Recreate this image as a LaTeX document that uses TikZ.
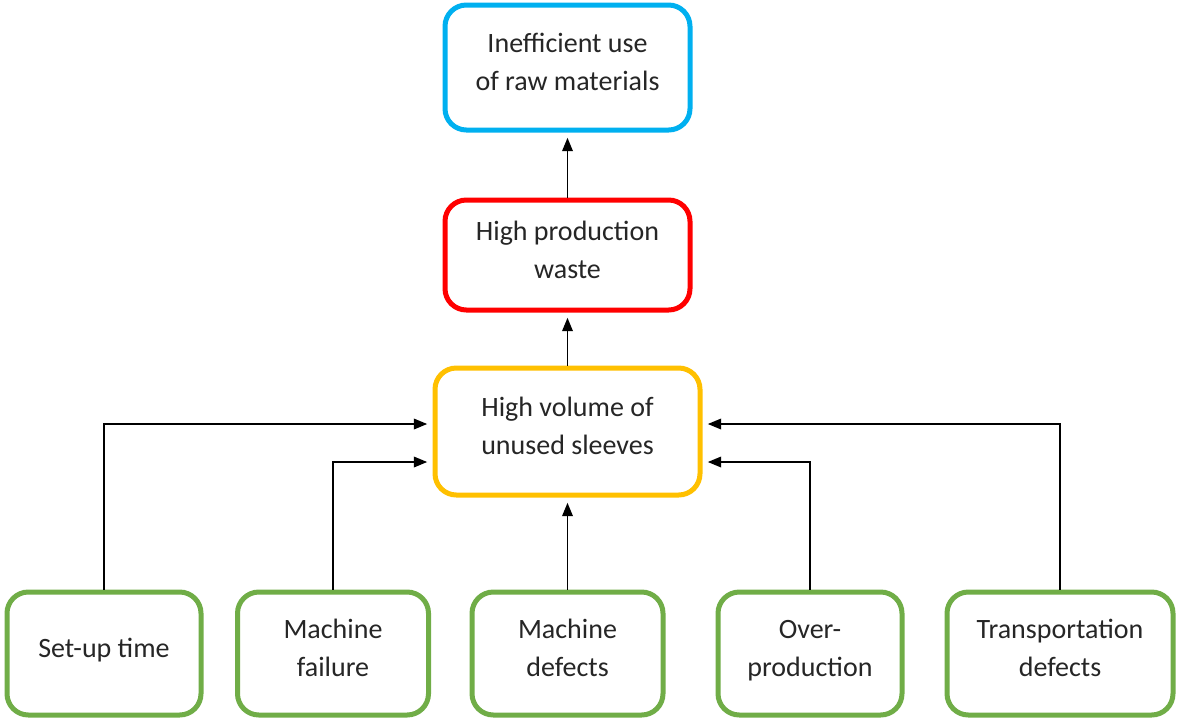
\documentclass[tikz,border=0pt]{standalone}
\usepackage{fontspec}
\setmainfont{Carlito}
\usetikzlibrary{arrows.meta,calc}
\definecolor{topblue}{HTML}{00B0F0}
\definecolor{wastered}{HTML}{FF0000}
\definecolor{sleeveyellow}{HTML}{FFC000}
\definecolor{causegreen}{HTML}{70AD47}
\tikzset{
  box/.style={draw, line width=3.75pt, rounded corners=16pt, fill=white,
    align=center, inner sep=0pt, text=black!85,
    font=\fontsize{21}{28.5}\selectfont,
    execute at end node={\rule[-8pt]{0pt}{8pt}}},
  cause/.style={box, draw=causegreen, minimum height=92.25pt},
  link/.style={-{Triangle[length=10pt,width=8pt]}, line width=1.1pt,
    shorten >=4pt}
}

\begin{document}
\begin{tikzpicture}[x=0.75pt, y=-0.75pt]
  \useasboundingbox (0,0) rectangle (1177,719);

  % effects
  \node[box, draw=topblue, minimum width=183.75pt, minimum height=93.75pt]
    at (567.5, 67.5) (raw) {Inefficient use\\of raw materials};
  \node[box, draw=wastered, minimum width=183.75pt, minimum height=82.5pt]
    at (567.5, 255) (waste) {High production\\waste};
  \node[box, draw=sleeveyellow, minimum width=198.75pt, minimum height=95.25pt]
    at (567.5, 431.5) (sleeves) {High volume of\\unused sleeves};

  % causes
  \node[cause, minimum width=145.5pt]  at (104, 653.5)  (setup)
    {Set-up time};
  \node[cause, minimum width=143.25pt] at (333, 653.5)  (failure)
    {Machine\\failure};
  \node[cause, minimum width=143.25pt] at (567.5, 653.5) (defects)
    {Machine\\defects};
  \node[cause, minimum width=138pt]    at (810, 653.5)  (overprod)
    {Over-\\production};
  \node[cause, minimum width=169.5pt]  at (1060, 653.5) (transport)
    {Transportation\\defects};

  \draw[link] (waste) -- (raw);
  \draw[link] (sleeves) -- (waste);
  \draw[link] (defects) -- (sleeves);

  \draw[link] (setup.north)   |- ($(sleeves.west)+(0,-7.5)$);
  \draw[link] (failure.north) |- ($(sleeves.west)+(0,30.5)$);
  \draw[link] (overprod.north)  |- ($(sleeves.east)+(0,30.5)$);
  \draw[link] (transport.north) |- ($(sleeves.east)+(0,-7.5)$);
\end{tikzpicture}
\end{document}
